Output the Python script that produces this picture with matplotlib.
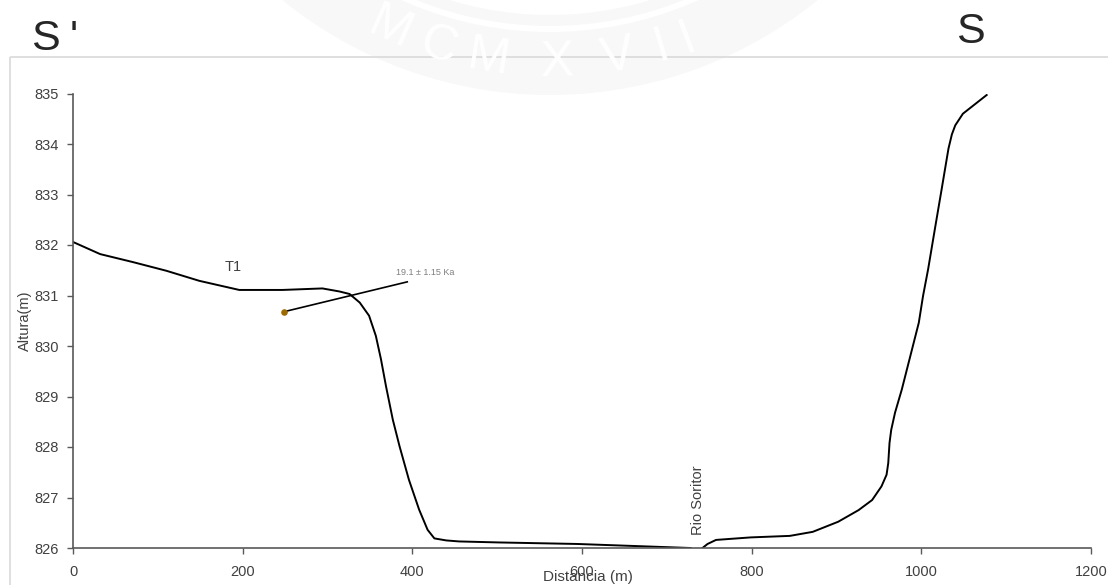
import numpy as np
import matplotlib.pyplot as plt
from matplotlib.patches import Wedge, Rectangle

# perfil topografico S' - S
left_x = [0, 32, 71, 110, 149, 196, 247, 294, 314, 326, 338, 349, 357, 363, 369, 377,
          385, 396, 408, 418, 426, 440, 455, 502, 594, 728]
left_y = [832.06, 831.82, 831.66, 831.49, 831.29, 831.11, 831.11, 831.14, 831.08, 831.03,
          830.86, 830.60, 830.20, 829.74, 829.20, 828.54, 828.01, 827.35, 826.76, 826.36,
          826.19, 826.15, 826.13, 826.11, 826.08, 826.00]
right_x = [742, 748, 758, 799, 845, 872, 902, 926, 942, 953, 959, 961, 962.5, 964.5, 969,
           977, 987, 997, 1002, 1008, 1016, 1024, 1032, 1036, 1040, 1049, 1077]
right_y = [826.00, 826.08, 826.16, 826.21, 826.24, 826.32, 826.52, 826.75, 826.95, 827.22,
           827.45, 827.68, 828.08, 828.34, 828.68, 829.14, 829.80, 830.46, 830.99, 831.52,
           832.32, 833.11, 833.91, 834.19, 834.37, 834.60, 834.97]
# muestra datada
sample_x = [249]
sample_y = [830.68]
leader_x = [249, 394]
leader_y = [830.68, 831.27]
sample_label = '19.1 \u00b1 1.15 Ka'

xticks = [0, 200, 400, 600, 800, 1000, 1200]
yticks = [826, 827, 828, 829, 830, 831, 832, 833, 834, 835]

W, H = 1108, 585
fig = plt.figure(figsize=(W / 100, H / 100), dpi=100)
font = ['Liberation Sans', 'DejaVu Sans']

#################WATERMARK######################
bg = fig.add_axes([0, 0, 1, 1], zorder=-5)
bg.set_xlim(0, W)
bg.set_ylim(H, 0)
bg.axis('off')
cx, cy = 550, -330
bg.add_patch(Wedge((cx, cy), 425, 0, 180, width=80, facecolor='#f8f8f8', edgecolor='none'))
bg.add_patch(Wedge((cx, cy), 362, 0, 180, width=6, facecolor='white', edgecolor='none'))
for ch, ang in zip('MCMXVII', [114, 106.5, 99, 89, 80, 73.5, 69.5]):
    t = np.radians(ang)
    bg.text(cx + 393 * np.cos(t), cy + 393 * np.sin(t), ch, fontsize=36,
            color='white', ha='center', va='center', rotation=90 - ang,
            family=font)
bg.add_patch(Rectangle((10, 57), W, H, facecolor='none', edgecolor='#d9d9d9', lw=1.2))

###################PROFILE PLOT#################
ax = fig.add_axes([73 / W, 37 / H, 1018 / W, 454.5 / H])
ax.patch.set_alpha(0)
ax.plot(left_x, left_y, color='black', lw=1.4, solid_joinstyle='round')
ax.plot(right_x, right_y, color='black', lw=1.4, solid_joinstyle='round')
ax.plot(leader_x, leader_y, color='black', lw=1.2)
ax.scatter(sample_x, sample_y, s=14, color='#9c6a00', zorder=5)
ax.text(381, 831.36, sample_label, fontsize=6.5, color='#7f7f7f', va='bottom',
        family=font)
ax.text(189, 831.56, 'T1', fontsize=10.5, color='#404040', ha='center', va='center',
        family=font)
ax.text(737, 826.25, 'Rio Soritor', fontsize=10.5, color='#404040', rotation=90,
        ha='center', va='bottom', family=font)

ax.set_xlim(0, 1200)
ax.set_ylim(826, 835)
ax.set_xticks(xticks)
ax.set_yticks(yticks)
ax.spines['top'].set_visible(False)
ax.spines['right'].set_visible(False)
for s in ['left', 'bottom']:
    ax.spines[s].set_color('#595959')
    ax.spines[s].set_linewidth(1.2)
ax.tick_params(direction='out', length=4, width=1, color='#595959',
               labelcolor='#404040', labelsize=10.5)
ax.tick_params(axis='x', pad=8)
ax.tick_params(axis='y', pad=6)
for lab in ax.get_xticklabels() + ax.get_yticklabels():
    lab.set_family(font)

fig.text(588 / W, 1 - 577 / H, 'Distancia (m)', fontsize=11, color='#404040',
         ha='center', va='center', family=font)
fig.text(25 / W, 1 - 321 / H, 'Altura(m)', fontsize=10.5, color='#404040',
         ha='center', va='center', rotation=90, family=font)
fig.text(31 / W, 1 - 50 / H, 'S', fontsize=31, color='#262626', va='baseline',
         family=font)
fig.text(70 / W, 1 - 50 / H, "'", fontsize=31, color='#262626', va='baseline',
         family=font)
fig.text(956 / W, 1 - 43 / H, 'S', fontsize=31, color='#262626', va='baseline',
         family=font)

fig.savefig('out.png', dpi=100)
